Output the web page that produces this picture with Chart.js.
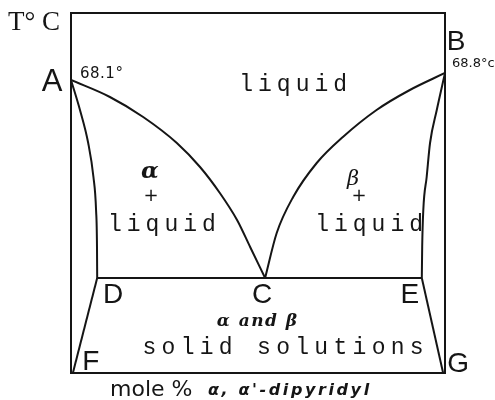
<!DOCTYPE html>
<html>
<head>
<meta charset="utf-8">
<script src="https://cdn.jsdelivr.net/npm/chart.js@4/dist/chart.umd.min.js"></script>
<style>
  html, body { margin: 0; padding: 0; background: #fff; }
  #phase { display: block; }
</style>
</head>
<body>
<canvas id="phase" width="495" height="400"></canvas>
<script>
// composition in mole % a,a'-dipyridyl, temperature in deg C
const liquidusAlphaX = [0, 10.4, 19.3, 28.3, 34.5, 39.8, 44.4, 47.9, 51.9];
const liquidusAlphaT = [68.1, 66.4, 64.4, 61.8, 59.4, 56.8, 54.1, 51.4, 48.3];
const liquidusBetaX = [51.9, 55.0, 59.4, 65.7, 72.7, 81.7, 90.6, 100];
const liquidusBetaT = [48.3, 52.8, 56.4, 59.8, 62.4, 65.1, 67.1, 68.8];
const solidusAlphaX = [0, 2.4, 4.6, 6.0, 6.7, 6.95, 7.0];
const solidusAlphaT = [68.1, 65.1, 61.8, 58.4, 55.1, 51.4, 48.3];
const solidusBetaX = [93.8, 93.9, 94.2, 95.1, 96.0, 97.8, 100];
const solidusBetaT = [48.3, 51.4, 55.1, 58.4, 61.8, 65.1, 68.8];
const eutecticX = [7.0, 93.8];
const eutecticT = [48.3, 48.3];
const solvusAlphaX = [7.0, 0.5];
const solvusAlphaT = [48.3, 38.8];
const solvusBetaX = [93.8, 99.5];
const solvusBetaT = [48.3, 38.8];

// lettered points of the diagram
const pointNames = ["A", "B", "C", "D", "E", "F", "G"];
const pointX = [0, 100, 51.9, 7.0, 93.8, 0.5, 99.5];
const pointT = [68.1, 68.8, 48.3, 48.3, 48.3, 38.8, 38.8];

// melting points of the pure components
const meltText = ["68.1°", "68.8°c"];
const meltX = [0, 100];
const meltT = [68.1, 68.8];

// phase field names
const fieldText = ["liquid", "α", "+", "liquid", "β", "+", "liquid", "α and β", "solid solutions"];
const fieldX = [59.4, 21.1, 21.4, 24.3, 75.4, 77.0, 79.7, 49.7, 56.7];
const fieldT = [67.6, 58.9, 56.5, 53.6, 58.1, 56.5, 53.6, 43.9, 41.3];

const tMin = 38.8;
const tMax = 74.8;

const ink = "#151515";

function pts(xs, ys) {
  return xs.map((x, i) => ({ x: x, y: ys[i] }));
}

function curve(xs, ys, smooth) {
  return {
    data: pts(xs, ys),
    showLine: true,
    borderColor: ink,
    borderWidth: 2,
    pointRadius: 0,
    cubicInterpolationMode: smooth ? "monotone" : "default",
    tension: 0,
    fill: false
  };
}

function text(ctx, str, x, y, font, align, spacing) {
  ctx.font = font;
  ctx.textAlign = align || "center";
  ctx.letterSpacing = (spacing || 0) + "px";
  const shift = (spacing && ctx.textAlign === "center") ? spacing / 2 : 0;
  ctx.fillText(str, x + shift, y);
}

// box round the plot area
const frame = {
  id: "frame",
  beforeDatasetsDraw(chart) {
    const { ctx, chartArea: a } = chart;
    ctx.save();
    ctx.strokeStyle = ink;
    ctx.lineWidth = 2;
    ctx.strokeRect(a.left, a.top, a.right - a.left, a.bottom - a.top);
    ctx.restore();
  }
};

const pointOffsets = [[-19, 2], [11, -31], [-3, 17], [16, 17], [-12, 17], [18, -11], [15, -9]];
const fieldFonts = [
  ["23px 'Liberation Mono'", 5],
  ["bold italic 23px 'DejaVu Serif'", 0],
  ["18px 'DejaVu Sans'", 0],
  ["23px 'Liberation Mono'", 5],
  ["italic 21px 'DejaVu Serif'", 0],
  ["18px 'DejaVu Sans'", 0],
  ["23px 'Liberation Mono'", 5],
  ["bold italic 17px 'DejaVu Serif'", 1.5],
  ["23px 'Liberation Mono'", 5.3]
];

const labels = {
  id: "labels",
  afterDraw(chart) {
    const { ctx, chartArea: a } = chart;
    const xs = chart.scales.x;
    const ys = chart.scales.y;
    ctx.save();
    ctx.fillStyle = ink;
    ctx.textBaseline = "middle";

    pointNames.forEach((n, i) => {
      const px = xs.getPixelForValue(pointX[i]) + pointOffsets[i][0];
      const py = ys.getPixelForValue(pointT[i]) + pointOffsets[i][1];
      const size = n === "A" ? 31 : 28;
      text(ctx, n, px, py, size + "px 'Liberation Sans'", "center", 0);
    });

    text(ctx, meltText[0], xs.getPixelForValue(meltX[0]) + 9, ys.getPixelForValue(meltT[0]) - 6,
      "15px 'DejaVu Sans'", "left", 0.5);
    text(ctx, meltText[1], xs.getPixelForValue(meltX[1]) + 7, ys.getPixelForValue(meltT[1]) - 9,
      "13px 'DejaVu Sans'", "left", 0);

    fieldText.forEach((s, i) => {
      const px = xs.getPixelForValue(fieldX[i]);
      const py = ys.getPixelForValue(fieldT[i]);
      text(ctx, s, px, py, fieldFonts[i][0], "center", fieldFonts[i][1]);
    });

    // axis titles
    text(ctx, "T° C", a.left - 63, a.top + 10, "27px 'Liberation Serif'", "left", 0);
    ctx.textBaseline = "alphabetic";
    text(ctx, "mole %", a.left + 39, a.bottom + 23, "22px 'DejaVu Sans'", "left", 0);
    text(ctx, "α, α'-dipyridyl", a.left + 137, a.bottom + 22, "bold italic 16px 'DejaVu Sans'", "left", 2.6);
    ctx.restore();
  }
};

new Chart(document.getElementById("phase"), {
  type: "scatter",
  data: {
    datasets: [
      curve(liquidusAlphaX, liquidusAlphaT, true),
      curve(liquidusBetaX, liquidusBetaT, true),
      curve(solidusAlphaX, solidusAlphaT, true),
      curve(solidusBetaX, solidusBetaT, true),
      curve(eutecticX, eutecticT, false),
      curve(solvusAlphaX, solvusAlphaT, false),
      curve(solvusBetaX, solvusBetaT, false)
    ]
  },
  options: {
    responsive: false,
    animation: false,
    devicePixelRatio: 1,
    layout: { padding: { left: 71, right: 50, top: 13, bottom: 27 } },
    scales: {
      x: { type: "linear", min: 0, max: 100, display: false },
      y: { type: "linear", min: tMin, max: tMax, display: false }
    },
    plugins: {
      legend: { display: false },
      tooltip: { enabled: false }
    }
  },
  plugins: [frame, labels]
});
</script>
</body>
</html>
